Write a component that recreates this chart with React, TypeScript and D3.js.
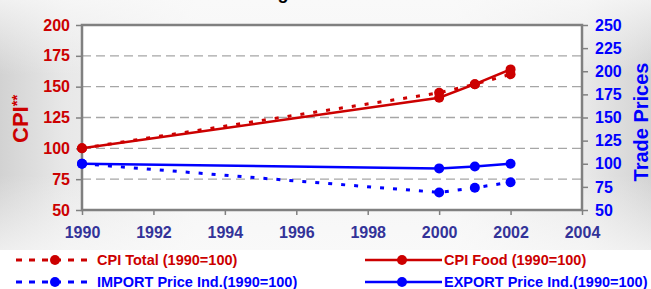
import React, { FC, useEffect, useRef } from "react"
import { axisBottom, axisLeft, axisRight, curveLinear, line, scaleLinear, select } from "d3"

const years = [1990, 2000, 2001, 2002]
const cpiTotal = [100, 145, 152, 160]
const cpiFood = [100, 141, 152, 164]
const importPrice = [100, 69, 74, 80]
const exportPrice = [100, 95, 97, 100]

const xTicks = [1990, 1992, 1994, 1996, 1998, 2000, 2002, 2004]
const leftTicks = [50, 75, 100, 125, 150, 175, 200]
const rightTicks = [50, 75, 100, 125, 150, 175, 200, 225, 250]

const RED = "#cc0000"
const BLUE = "#0000ff"
const NAVY = "#333399"
const FONT = "'Liberation Sans', Arial, sans-serif"

type Series = {
  name: string
  values: number[]
  color: string
  dashed: boolean
  axis: "left" | "right"
}

const series: Series[] = [
  { name: "CPI Total (1990=100)", values: cpiTotal, color: RED, dashed: true, axis: "left" },
  { name: "CPI Food (1990=100)", values: cpiFood, color: RED, dashed: false, axis: "left" },
  { name: "IMPORT Price Ind.(1990=100)", values: importPrice, color: BLUE, dashed: true, axis: "right" },
  { name: "EXPORT Price Ind.(1990=100)", values: exportPrice, color: BLUE, dashed: false, axis: "right" },
]

const App: FC = () => {
  const ref = useRef<SVGSVGElement>(null)

  useEffect(() => {
    const el = ref.current
    if (!el) return
    const svg = select(el)
    svg.selectAll("*").remove()

    const width = 651
    const height = 289
    const plot = { left: 82, right: 582, top: 25, bottom: 210 }

    // background
    const defs = svg.append("defs")
    const hg = defs.append("linearGradient").attr("id", "hg")
    ;[
      [0, "#d2d2d2"],
      [0.1, "#e8e8e8"],
      [0.3, "#f6f6f6"],
      [0.7, "#f6f6f6"],
      [0.9, "#e8e8e8"],
      [1, "#d2d2d2"],
    ].forEach(([o, c]) => hg.append("stop").attr("offset", o).attr("stop-color", c))
    const vg = defs
      .append("linearGradient")
      .attr("id", "vg")
      .attr("x1", 0)
      .attr("x2", 0)
      .attr("y1", 0)
      .attr("y2", 1)
    ;[
      [0, 0.75],
      [0.3, 0],
      [0.7, 0],
      [1, 0.7],
    ].forEach(([o, a]) =>
      vg.append("stop").attr("offset", o).attr("stop-color", "#fafafa").attr("stop-opacity", a),
    )
    svg.append("rect").attr("width", width).attr("height", 250).attr("fill", "url(#hg)")
    svg.append("rect").attr("width", width).attr("height", 250).attr("fill", "url(#vg)")
    svg.append("rect").attr("y", 250).attr("width", width).attr("height", height - 250).attr("fill", "#ffffff")

    // title (cut off at top, only the descender shows)
    svg
      .append("text")
      .attr("x", 283)
      .attr("y", -1)
      .attr("text-anchor", "middle")
      .attr("font-family", FONT)
      .attr("font-weight", "bold")
      .attr("font-size", 18)
      .text("g")

    // scales
    const x = scaleLinear().domain([1990, 2004]).range([plot.left, plot.right])
    const yL = scaleLinear().domain([50, 200]).range([plot.bottom, plot.top])
    const yR = scaleLinear().domain([50, 250]).range([plot.bottom, plot.top])

    svg
      .append("rect")
      .attr("x", plot.left)
      .attr("y", plot.top)
      .attr("width", plot.right - plot.left)
      .attr("height", plot.bottom - plot.top)
      .attr("fill", "#ffffff")

    // grid
    svg
      .append("g")
      .selectAll("line")
      .data(leftTicks.filter((t) => t > 50 && t < 200))
      .join("line")
      .attr("x1", plot.left)
      .attr("x2", plot.right)
      .attr("y1", (d) => yL(d))
      .attr("y2", (d) => yL(d))
      .attr("stroke", "#a6a6a6")
      .attr("stroke-width", 1.3)
      .attr("stroke-dasharray", "9,5")

    const styleAxis = (g: any, color: string) => {
      g.select(".domain").remove()
      g.selectAll(".tick line").attr("stroke", "#808080").attr("stroke-width", 1.5)
      g.selectAll(".tick text")
        .attr("fill", color)
        .attr("font-family", FONT)
        .attr("font-weight", "bold")
        .attr("font-size", 16)
    }

    svg
      .append("g")
      .attr("transform", `translate(${plot.left},0)`)
      .call(axisLeft(yL).tickValues(leftTicks).tickSize(6).tickPadding(6))
      .call((g) => styleAxis(g, RED))

    svg
      .append("g")
      .attr("transform", `translate(${plot.right},0)`)
      .call(axisRight(yR).tickValues(rightTicks).tickSize(6).tickPadding(7))
      .call((g) => styleAxis(g, BLUE))

    svg
      .append("g")
      .attr("transform", `translate(0,${plot.bottom})`)
      .call(axisBottom(x).tickValues(xTicks).tickFormat((d) => String(d)).tickSize(5).tickPadding(12))
      .call((g) => styleAxis(g, NAVY))

    // border
    svg
      .append("rect")
      .attr("x", plot.left)
      .attr("y", plot.top)
      .attr("width", plot.right - plot.left)
      .attr("height", plot.bottom - plot.top)
      .attr("fill", "none")
      .attr("stroke", "#808080")
      .attr("stroke-width", 2.5)

    // axis titles
    const cpiLabel = svg
      .append("text")
      .attr("transform", "translate(28,143) rotate(-90)")
      .attr("fill", RED)
      .attr("font-family", FONT)
      .attr("font-weight", "bold")
      .attr("font-size", 22)
    cpiLabel.append("tspan").text("CPI")
    cpiLabel.append("tspan").attr("font-size", 15).attr("dy", -6).text("**")

    svg
      .append("text")
      .attr("transform", "translate(648,122) rotate(-90)")
      .attr("text-anchor", "middle")
      .attr("fill", BLUE)
      .attr("font-family", FONT)
      .attr("font-weight", "bold")
      .attr("font-size", 20)
      .text("Trade Prices")

    // series
    const drawn = [series[0], series[2], series[1], series[3]]
    drawn.forEach((s) => {
      const yScale = s.axis === "left" ? yL : yR
      const pts = years.map((yr, i) => [x(yr), yScale(s.values[i])] as [number, number])
      svg
        .append("path")
        .attr("d", line().curve(curveLinear)(pts))
        .attr("fill", "none")
        .attr("stroke", s.color)
        .attr("stroke-width", s.dashed ? 3 : 2.5)
        .attr("stroke-dasharray", s.dashed ? "4,9" : null)
      svg
        .append("g")
        .selectAll("circle")
        .data(pts)
        .join("circle")
        .attr("cx", (d) => d[0])
        .attr("cy", (d) => d[1])
        .attr("r", 5)
        .attr("fill", s.color)
    })

    // legend
    const legendPos = [
      { x0: 16, x1: 93, mx: 55, tx: 97, y: 260 },
      { x0: 365, x1: 442, mx: 402, tx: 444, y: 260 },
      { x0: 16, x1: 93, mx: 55, tx: 97, y: 282 },
      { x0: 365, x1: 442, mx: 402, tx: 444, y: 282 },
    ]
    series.forEach((s, i) => {
      const p = legendPos[i]
      const g = svg.append("g")
      g.append("line")
        .attr("x1", p.x0)
        .attr("x2", p.x1)
        .attr("y1", p.y)
        .attr("y2", p.y)
        .attr("stroke", s.color)
        .attr("stroke-width", s.dashed ? 3 : 2.5)
        .attr("stroke-dasharray", s.dashed ? "6,7" : null)
      g.append("circle").attr("cx", p.mx).attr("cy", p.y).attr("r", 5).attr("fill", s.color)
      g.append("text")
        .attr("x", p.tx)
        .attr("y", p.y)
        .attr("dy", "0.36em")
        .attr("fill", s.color)
        .attr("font-family", FONT)
        .attr("font-weight", "bold")
        .attr("font-size", 14.5)
        .text(s.name)
    })
  }, [])

  return (
    <svg
      ref={ref}
      width={651}
      height={289}
      style={{ position: "absolute", left: 0, top: 0, display: "block" }}
    />
  )
}

export default App
